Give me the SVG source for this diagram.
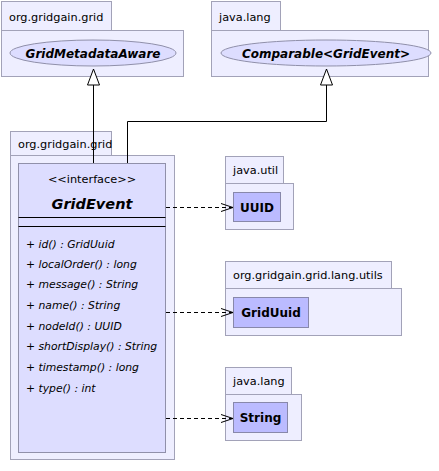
<svg xmlns="http://www.w3.org/2000/svg" width="439" height="471" viewBox="0 0 439 471">
<style>
.pkg{fill:#eeeeff;stroke:#a2a2b8;stroke-width:1}
.cls{fill:#bbbbff;stroke:#8888aa;stroke-width:1}
.ifc{fill:#ddddff;stroke:#9090aa;stroke-width:1}
.ell{fill:#ddddff;stroke:#9090aa;stroke-width:1}
text{font-family:"DejaVu Sans",sans-serif;fill:#000}
.pl{font-size:11.3px}
.bn{font-size:12px;font-weight:bold}
.bi{font-size:12px;font-weight:bold;font-style:italic}
.mt{font-size:10.8px;font-style:italic}
.ln{stroke:#000;stroke-width:1;fill:none}
.dash{stroke:#000;stroke-width:1;fill:none;stroke-dasharray:4,3}
</style>
<defs>
<marker id="tri" markerWidth="18" markerHeight="14" refX="17" refY="7" orient="auto" markerUnits="userSpaceOnUse" viewBox="0 0 18 14">
<path d="M1,1 L17,7 L1,13 Z" fill="#fff" stroke="#000"/>
</marker>
<marker id="open" markerWidth="14" markerHeight="10" refX="13" refY="5" orient="auto" markerUnits="userSpaceOnUse" viewBox="0 0 14 10">
<path d="M1,1 L13,5 L1,9" fill="none" stroke="#000"/>
</marker>
</defs>

<g id="pkg-org-gridgain-grid-top">
<rect class="pkg" x="1.5" y="1.5" width="110" height="29"/>
<rect class="pkg" x="1.5" y="30.5" width="182" height="46"/>
<text class="pl" x="9" y="21">org.gridgain.grid</text>
</g>
<g id="GridMetadataAware">
<ellipse class="ell" cx="93" cy="53" rx="83" ry="13"/>
<text class="bi" x="93" y="57.5" text-anchor="middle">GridMetadataAware</text>
</g>

<g id="pkg-java-lang-top">
<rect class="pkg" x="211.5" y="1.5" width="69" height="29"/>
<rect class="pkg" x="211.5" y="30.5" width="217" height="46"/>
<text class="pl" x="219" y="21">java.lang</text>
</g>
<g id="Comparable">
<ellipse class="ell" cx="326" cy="53" rx="105" ry="13"/>
<text class="bi" x="326" y="57.5" text-anchor="middle">Comparable&lt;GridEvent&gt;</text>
</g>

<g id="pkg-org-gridgain-grid">
<rect class="pkg" x="10.5" y="131.5" width="101" height="24"/>
<rect class="pkg" x="10.5" y="155.5" width="164" height="304"/>
<text class="pl" x="18" y="148">org.gridgain.grid</text>
</g>
<g id="GridEvent">
<rect class="ifc" x="18.5" y="163.5" width="147" height="289"/>
<text class="pl" x="92" y="183" text-anchor="middle">&lt;&lt;interface&gt;&gt;</text>
<text x="92" y="209" text-anchor="middle" style="font-size:14.5px;font-weight:bold;font-style:italic">GridEvent</text>
<line class="ln" x1="18.5" y1="217.5" x2="165.5" y2="217.5"/>
<line class="ln" x1="18.5" y1="226.5" x2="165.5" y2="226.5"/>
<text class="mt" x="26" y="248">+ id() : GridUuid</text>
<text class="mt" x="26" y="268">+ localOrder() : long</text>
<text class="mt" x="26" y="288">+ message() : String</text>
<text class="mt" x="26" y="309">+ name() : String</text>
<text class="mt" x="26" y="330">+ nodeId() : UUID</text>
<text class="mt" x="26" y="350">+ shortDisplay() : String</text>
<text class="mt" x="26" y="371">+ timestamp() : long</text>
<text class="mt" x="26" y="392">+ type() : int</text>
</g>

<g id="pkg-java-util">
<rect class="pkg" x="225.5" y="156.5" width="58" height="27"/>
<rect class="pkg" x="225.5" y="183.5" width="68" height="46"/>
<text class="pl" x="233" y="174">java.util</text>
</g>
<g id="UUID">
<rect class="cls" x="233.5" y="192.5" width="47" height="29"/>
<text class="bn" x="257" y="211.5" text-anchor="middle">UUID</text>
</g>

<g id="pkg-org-gridgain-grid-lang-utils">
<rect class="pkg" x="225.5" y="261.5" width="166" height="27"/>
<rect class="pkg" x="225.5" y="288.5" width="176" height="47"/>
<text class="pl" x="233" y="279">org.gridgain.grid.lang.utils</text>
</g>
<g id="GridUuid">
<rect class="cls" x="233.5" y="297.5" width="75" height="30"/>
<text class="bn" x="271" y="317" text-anchor="middle">GridUuid</text>
</g>

<g id="pkg-java-lang-bottom">
<rect class="pkg" x="225.5" y="367.5" width="66" height="27"/>
<rect class="pkg" x="225.5" y="394.5" width="76" height="46"/>
<text class="pl" x="233" y="385">java.lang</text>
</g>
<g id="String">
<rect class="cls" x="233.5" y="402.5" width="54" height="30"/>
<text class="bn" x="260.5" y="422" text-anchor="middle">String</text>
</g>

<g id="connectors">
<path class="ln" d="M93.5,163 L93.5,69" marker-end="url(#tri)"/>
<path class="ln" d="M127.5,163 L127.5,121.5 L326.5,121.5 L326.5,69" marker-end="url(#tri)"/>
<path class="dash" d="M166,207.5 L233,207.5" marker-end="url(#open)"/>
<path class="dash" d="M166,312.5 L233,312.5" marker-end="url(#open)"/>
<path class="dash" d="M166,418.5 L233,418.5" marker-end="url(#open)"/>
</g>
</svg>
